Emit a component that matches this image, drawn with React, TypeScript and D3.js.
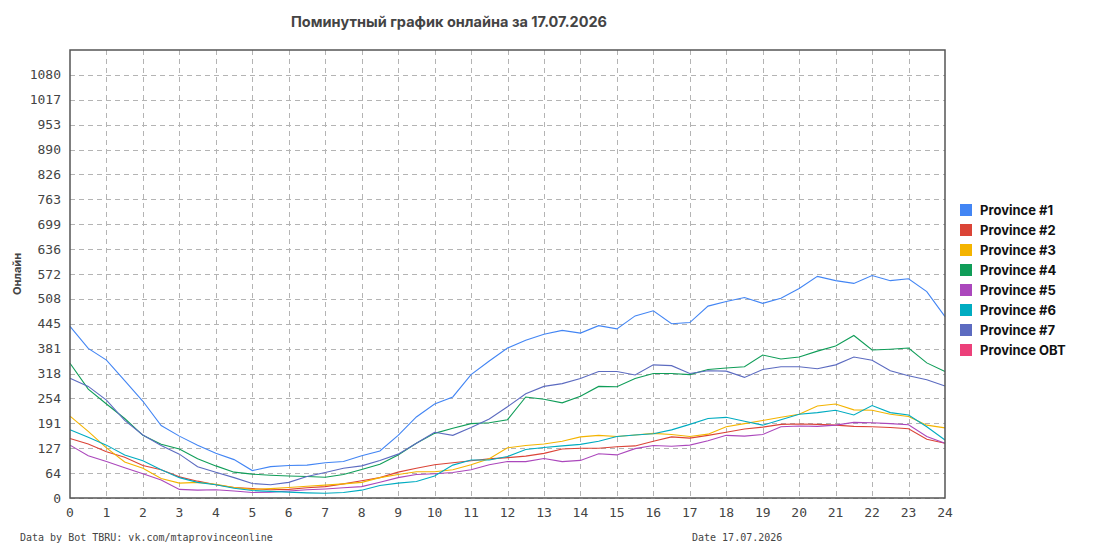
import React, { useEffect, useRef } from 'react';
import * as d3 from 'd3';

// half-hour readings, 0:00 .. 24:00
const hours = d3.range(0, 24.01, 0.5);

const province1 = [438, 382, 352, 300, 247, 185, 158, 135, 114, 98, 70, 80, 83, 84, 90, 93, 108, 120, 160, 207, 240, 258, 315, 350, 383, 403, 418, 428, 421, 440, 432, 465, 478, 445, 448, 490, 502, 512, 497, 510, 535, 566, 555, 548, 568, 555, 560, 527, 463];
const province2 = [152, 138, 118, 104, 83, 72, 54, 43, 34, 27, 24, 21, 22, 26, 29, 36, 44, 52, 66, 76, 85, 90, 95, 100, 103, 107, 114, 125, 127, 127, 131, 133, 145, 156, 153, 160, 168, 176, 181, 188, 189, 188, 186, 183, 182, 180, 177, 150, 140];
const province3 = [209, 170, 128, 92, 76, 50, 38, 40, 35, 27, 22, 24, 27, 30, 33, 36, 40, 52, 60, 67, 67, 72, 85, 100, 128, 134, 138, 145, 156, 160, 157, 161, 165, 162, 157, 163, 182, 190, 198, 206, 214, 235, 240, 225, 224, 214, 208, 186, 179];
const province4 = [344, 278, 240, 203, 160, 137, 125, 100, 82, 66, 61, 58, 56, 55, 53, 60, 73, 86, 110, 140, 165, 178, 190, 192, 200, 258, 252, 243, 260, 285, 284, 305, 318, 318, 315, 328, 332, 335, 365, 355, 360, 375, 388, 415, 378, 380, 383, 345, 323];
const province5 = [135, 108, 93, 77, 62, 46, 22, 20, 21, 18, 14, 15, 18, 21, 23, 26, 29, 40, 52, 60, 62, 65, 72, 85, 93, 93, 101, 93, 96, 113, 110, 126, 134, 132, 135, 146, 160, 158, 162, 182, 184, 183, 186, 193, 192, 190, 187, 157, 140];
const province6 = [174, 155, 135, 110, 95, 72, 52, 40, 34, 25, 19, 17, 15, 13, 12, 14, 20, 32, 38, 42, 56, 84, 97, 97, 106, 124, 129, 133, 137, 145, 157, 161, 164, 174, 188, 203, 206, 196, 186, 200, 214, 218, 224, 212, 236, 218, 212, 182, 148];
const province7 = [306, 285, 250, 198, 161, 134, 112, 80, 66, 52, 37, 34, 40, 55, 65, 76, 82, 96, 112, 140, 168, 160, 180, 202, 233, 266, 285, 292, 305, 323, 323, 314, 340, 338, 318, 325, 324, 308, 328, 335, 335, 330, 340, 360, 352, 325, 312, 302, 286];
const provinceOBT: number[] = [];

const seriesNames = ['Province #1', 'Province #2', 'Province #3', 'Province #4', 'Province #5', 'Province #6', 'Province #7', 'Province OBT'];
const seriesColors = ['#4285f4', '#db4437', '#f4b400', '#0f9d58', '#ab47bc', '#00acc1', '#5c6bc0', '#ec407a'];
const seriesValues = [province1, province2, province3, province4, province5, province6, province7, provinceOBT];

const yTickLabels = ['0', '64', '127', '191', '254', '318', '381', '445', '508', '572', '636', '699', '763', '826', '890', '953', '1017', '1080'];
const yMax = 1144;
const xTicks = d3.range(0, 25);

const title = 'Поминутный график онлайна за 17.07.2026';
const footerLeft = 'Data by Bot TBRU: vk.com/mtaprovinceonline';
const footerRight = 'Date 17.07.2026';

function App() {
  const ref = useRef<SVGSVGElement>(null);

  const width = 1095;
  const height = 550;
  const margin = { left: 70, right: 150, top: 50, bottom: 52 };

  useEffect(() => {
    if (!ref.current) return;
    const svg = d3.select(ref.current);
    svg.selectAll('*').remove();

    const x = d3.scaleLinear().domain([0, 24]).range([margin.left, width - margin.right]);
    const y = d3.scaleLinear().domain([0, yMax]).range([height - margin.bottom, margin.top]);
    const tickStep = yMax / 18;

    const mono = '"DejaVu Sans Mono", monospace';
    const sans = 'Inter, "Noto Sans", sans-serif';

    svg.append('rect').attr('width', width).attr('height', height).attr('fill', '#fff');

    // title
    svg.append('text')
      .attr('x', 449).attr('y', 27)
      .attr('text-anchor', 'middle')
      .attr('font-family', sans).attr('font-weight', 700).attr('font-size', 14.5)
      .attr('fill', '#444')
      .text(title);

    // grid
    const grid = svg.append('g').attr('stroke', '#b4b4b4').attr('stroke-dasharray', '5,4').attr('shape-rendering', 'crispEdges');
    grid.selectAll('line.h')
      .data(yTickLabels)
      .join('line')
      .attr('class', 'h')
      .attr('x1', x(0)).attr('x2', x(24))
      .attr('y1', (d, i) => Math.round(y(i * tickStep)) + 0.5)
      .attr('y2', (d, i) => Math.round(y(i * tickStep)) + 0.5);
    grid.selectAll('line.v')
      .data(xTicks.slice(1, -1))
      .join('line')
      .attr('class', 'v')
      .attr('y1', y(yMax)).attr('y2', y(0))
      .attr('x1', d => Math.round(x(d)) + 0.5)
      .attr('x2', d => Math.round(x(d)) + 0.5);

    // y tick labels
    svg.append('g')
      .selectAll('text')
      .data(yTickLabels)
      .join('text')
      .attr('x', 61)
      .attr('y', (d, i) => y(i * tickStep) + 4.5)
      .attr('text-anchor', 'end')
      .attr('font-family', mono).attr('font-size', 13)
      .attr('fill', '#444')
      .text(d => d);

    // x tick labels
    svg.append('g')
      .selectAll('text')
      .data(xTicks)
      .join('text')
      .attr('x', d => x(d))
      .attr('y', height - margin.bottom + 19)
      .attr('text-anchor', 'middle')
      .attr('font-family', mono).attr('font-size', 13)
      .attr('fill', '#444')
      .text(d => d);

    // axis title
    svg.append('text')
      .attr('transform', `translate(21, ${(margin.top + height - margin.bottom) / 2}) rotate(-90)`)
      .attr('text-anchor', 'middle')
      .attr('font-family', sans).attr('font-weight', 700).attr('font-size', 11)
      .attr('fill', '#444')
      .text('Онлайн');

    // lines
    const line = d3.line<number>()
      .x((d, i) => x(hours[i]))
      .y(d => y(d));

    svg.append('g')
      .selectAll('path')
      .data(seriesValues)
      .join('path')
      .attr('fill', 'none')
      .attr('stroke', (d, i) => seriesColors[i])
      .attr('stroke-width', 1.1)
      .attr('d', d => (d.length ? line(d) : null) as any);

    // frame
    svg.append('rect')
      .attr('x', x(0)).attr('y', y(yMax))
      .attr('width', x(24) - x(0)).attr('height', y(0) - y(yMax))
      .attr('fill', 'none')
      .attr('stroke', '#555').attr('stroke-width', 1.5);

    // legend
    const legend = svg.append('g')
      .selectAll('g')
      .data(seriesNames)
      .join('g')
      .attr('transform', (d, i) => `translate(960, ${204 + i * 20})`);
    legend.append('rect')
      .attr('width', 12).attr('height', 12)
      .attr('fill', (d, i) => seriesColors[i]);
    legend.append('text')
      .attr('x', 20).attr('y', 11)
      .attr('font-family', sans).attr('font-weight', 700).attr('font-size', 13)
      .attr('fill', '#111')
      .text(d => d);

    // footer
    svg.append('text')
      .attr('x', 20).attr('y', 541)
      .attr('font-family', mono).attr('font-size', 10)
      .attr('fill', '#444')
      .text(footerLeft);
    svg.append('text')
      .attr('x', 692).attr('y', 541)
      .attr('font-family', mono).attr('font-size', 10)
      .attr('fill', '#444')
      .text(footerRight);
  }, []);

  return (
    <div style={{ position: 'absolute', left: 0, top: 0 }}>
      <svg ref={ref} width={width} height={height} />
    </div>
  );
}

export default App;
